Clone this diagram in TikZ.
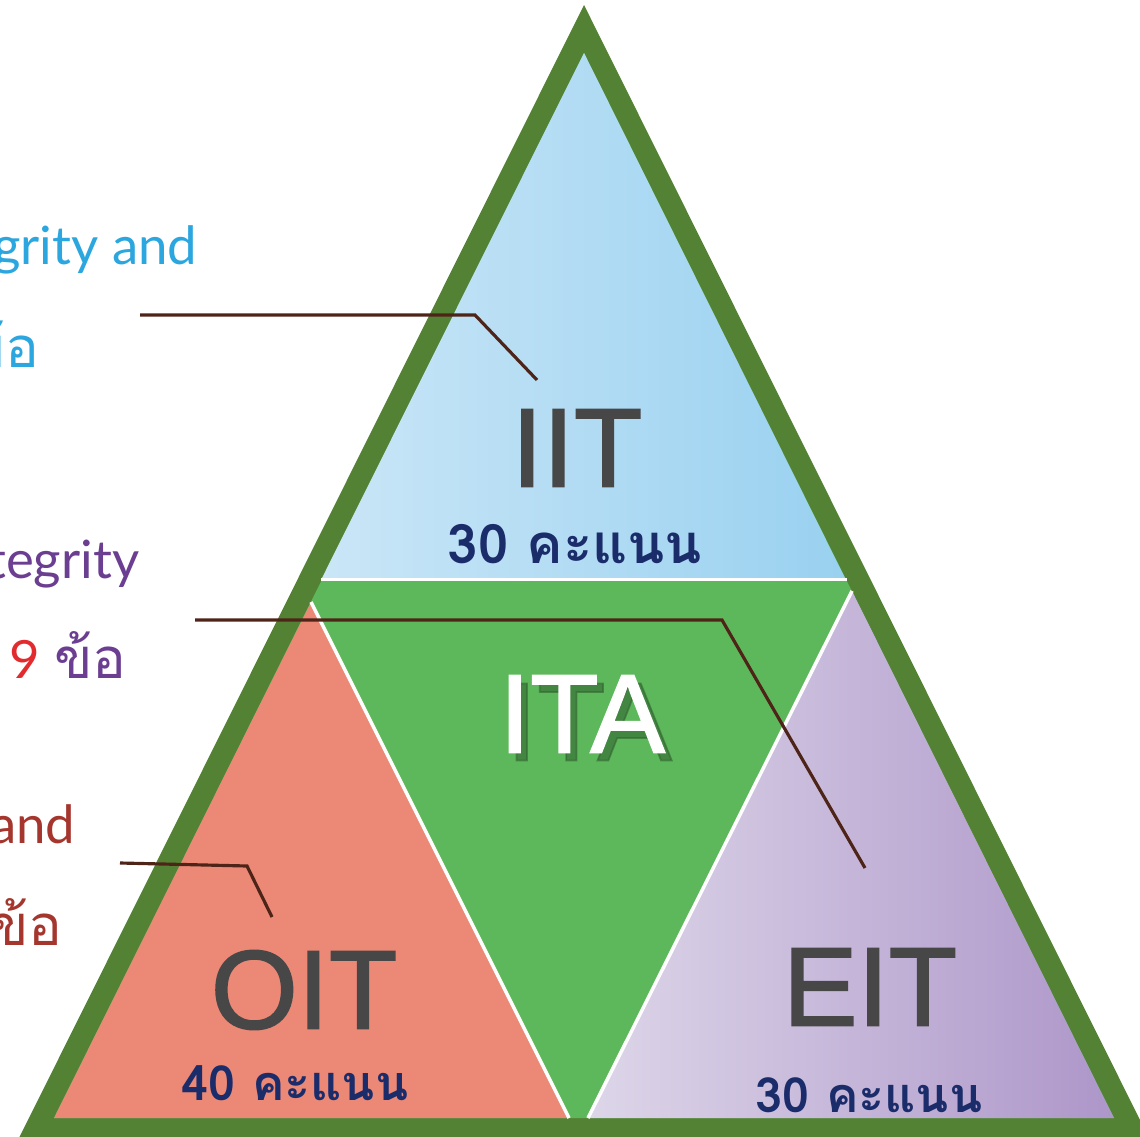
\documentclass[tikz,border=0pt]{standalone}
\usepackage{fontspec}
\setmainfont{Liberation Sans}
\newfontfamily\abbrfont[FakeBold=1.6]{Liberation Sans}
\newfontfamily\thaifont[Script=Thai]{Loma}
\newfontfamily\sidefont{Lato}
\usepackage{tikz}

\definecolor{bordergreen}{HTML}{548235}
\definecolor{itagreen}{HTML}{5DB85B}
\definecolor{iitlight}{HTML}{CAE6F7}
\definecolor{iitdark}{HTML}{99D1F0}
\definecolor{oitsalmon}{HTML}{EC8876}
\definecolor{eitlight}{HTML}{DDD6E9}
\definecolor{eitdark}{HTML}{AD96C9}
\definecolor{abbrgray}{HTML}{474747}
\definecolor{scorenavy}{HTML}{1B2C6B}
\definecolor{leaderbrown}{HTML}{4E2418}
\definecolor{sidecyan}{HTML}{2CA6DE}
\definecolor{sidepurple}{HTML}{6B3E91}
\definecolor{sidered}{HTML}{E12B2E}
\definecolor{siderust}{HTML}{A5362E}

\begin{document}
\begin{tikzpicture}[x=0.01cm, y=-0.01cm,
		abbr/.style={font=\abbrfont\fontsize{31.8}{32}\selectfont, text=abbrgray, inner sep=0pt},
		score/.style={font=\thaifont\bfseries\fontsize{13.8}{15}\selectfont, text=scorenavy, inner sep=0pt, anchor=base},
		side/.style={font=\sidefont\fontsize{15}{16}\selectfont, inner sep=0pt, anchor=base east},
		sidethai/.style={font=\thaifont\fontsize{16}{17}\selectfont, inner sep=0pt, anchor=base east},
		leader/.style={draw=leaderbrown, line width=0.9pt}]
			\useasboundingbox (0, 0) rectangle (1140, 1137);
			\clip (0, 0) rectangle (1140, 1137);

			% frame and parts of the pyramid
			\fill[bordergreen] (584, 5) -- (8, 1160) -- (1160, 1160) -- cycle;
			\fill[itagreen] (584, 53) -- (54, 1118) -- (1114, 1118) -- cycle;
			\shade[left color=iitlight, right color=iitdark] (584, 53) -- (322, 578) -- (845, 578) -- cycle;
			\draw[white, line width=1pt] (321, 579.5) -- (847, 579.5);
			\fill[oitsalmon] (311, 602) -- (54, 1118) -- (569, 1118) -- cycle;
			\draw[white, line width=1pt] (311, 602) -- (569, 1118);
			\shade[left color=eitlight, right color=eitdark] (852, 591) -- (588, 1118) -- (1114, 1118) -- cycle;
			\draw[white, line width=1pt] (852, 591) -- (588, 1118);

			% labels in the pyramid
			\node[abbr] (iit) at (577, 448) {IIT};
			\node[score, font=\thaifont\bfseries\fontsize{15.5}{16}\selectfont] (iitscore) at (575, 563) {30 คะแนน};
			\node[abbr, text=itagreen!55!black, opacity=0.6] at (589, 722) {ITA};
			\node[abbr, text=white] (ita) at (582, 714) {ITA};
			\node[abbr] (oit) at (304, 990) {OIT};
			\node[score] (oitscore) at (295, 1100) {40 คะแนน};
			\node[abbr] (eit) at (870, 987) {EIT};
			\node[score] (eitscore) at (869, 1112) {30 คะแนน};

			% texts on the left
			\node[side, text=sidecyan] (iittitle) at (198, 265) {grity and};
			\node[sidethai, text=sidecyan] (iitcount) at (40, 368) {ข้อ};
			\node[side, text=sidepurple] (eittitle) at (140, 578) {tegrity};
			\node[side, text=sidepurple] (eitcount) at (127, 678) {{\color{sidered}9} \thaifont\fontsize{16}{17}\selectfont ข้อ};
			\node[side, text=siderust] (oittitle) at (76, 843) {and};
			\node[sidethai, text=siderust] (oitcount) at (63, 945) {ข้อ};

			% leader lines
			\coordinate (iitS) at (140, 315);
			\coordinate (iitK) at (475, 315);
			\coordinate (iitE) at (537, 380);
			\coordinate (itaS) at (195, 620);
			\coordinate (itaK) at (722, 620);
			\coordinate (itaE) at (865, 868);
			\coordinate (oitS) at (120, 863);
			\coordinate (oitK) at (247, 866);
			\coordinate (oitE) at (272, 917);
			\draw[leader] (iitS) -- (iitK) -- (iitE);
			\draw[leader] (itaS) -- (itaK) -- (itaE);
			\draw[leader] (oitS) -- (oitK) -- (oitE);
		\end{tikzpicture}
\end{document}
